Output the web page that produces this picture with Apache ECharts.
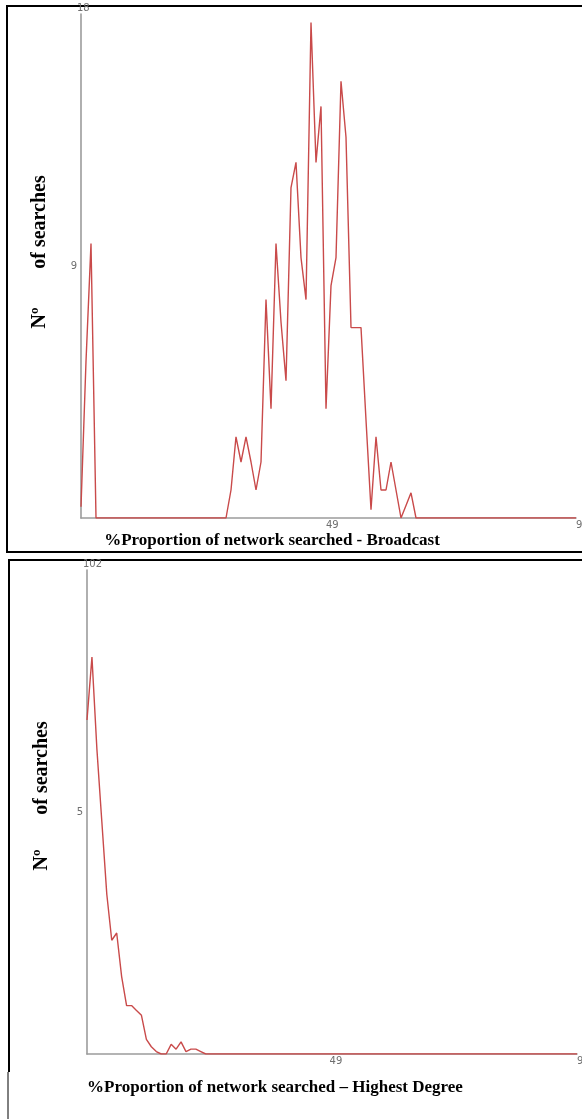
<!DOCTYPE html>
<html>
<head>
<meta charset="utf-8">
<script src="https://cdn.jsdelivr.net/npm/echarts@6/dist/echarts.min.js"></script>
<style>
html,body{margin:0;padding:0;background:#fff;}
#chart{width:582px;height:1119px;}
</style>
</head>
<body>
<div id="chart"></div>
<script>
// x positions: % proportion of network searched (0..99)
const xValues = [
 0,1,2,3,4,5,6,7,8,9,10,11,12,13,14,15,16,17,18,19,
 20,21,22,23,24,25,26,27,28,29,30,31,32,33,34,35,36,37,38,39,
 40,41,42,43,44,45,46,47,48,49,50,51,52,53,54,55,56,57,58,59,
 60,61,62,63,64,65,66,67,68,69,70,71,72,73,74,75,76,77,78,79,
 80,81,82,83,84,85,86,87,88,89,90,91,92,93,94,95,96,97,98,99
];
// Broadcast: number of searches
const broadcast = [
 0.4,5.6,9.8,0,0,0,0,0,0,0,0,0,0,0,0,0,0,0,0,0,
 0,0,0,0,0,0,0,0,0,0,1.0,2.9,2.0,2.9,2.0,1.0,2.0,7.8,3.9,9.8,
 7.0,4.9,11.8,12.7,9.3,7.8,17.7,12.7,14.7,3.9,8.3,9.3,15.6,13.6,6.8,6.8,6.8,3.5,0.3,2.9,
 1.0,1.0,2.0,1.0,0,0.45,0.9,0,0,0,0,0,0,0,0,0,0,0,0,0,
 0,0,0,0,0,0,0,0,0,0,0,0,0,0,0,0,0,0,0,0
];
// Highest Degree: number of searches
const highestDegree = [
 6.9,8.2,6.3,4.8,3.3,2.35,2.5,1.6,1.0,1.0,0.9,0.8,0.3,0.15,0.05,0,0,0.2,0.1,0.25,
 0.05,0.1,0.1,0.05,0,0,0,0,0,0,0,0,0,0,0,0,0,0,0,0,
 0,0,0,0,0,0,0,0,0,0,0,0,0,0,0,0,0,0,0,0,
 0,0,0,0,0,0,0,0,0,0,0,0,0,0,0,0,0,0,0,0,
 0,0,0,0,0,0,0,0,0,0,0,0,0,0,0,0,0,0,0,0
];
const xTickLabels = [49, 99];
const yMax1 = 18, yMid1 = 9, yTop1Label = '18';
const yMax2 = 10, yMid2 = 5, yTop2Label = '102';
const title1 = '%Proportion of network searched - Broadcast';
const title2 = '%Proportion of network searched \u2013 Highest Degree';
const yTitleA = 'N\u00BA', yTitleB = 'of searches';

const pairs = (ys) => xValues.map((x, i) => [x, ys[i]]);

const axisGrey = '#9c9c9c';
const labelGrey = '#6e6e6e';
const lineRed = '#c94a4a';

function xAx(g) {
  return {
    gridIndex: g, type: 'value', min: 0, max: 99,
    axisLine: {show: true, lineStyle: {color: axisGrey, width: 1.6}},
    axisTick: {show: false},
    splitLine: {show: false},
    axisLabel: {customValues: xTickLabels, align: 'left', color: labelGrey, fontSize: 10,
      fontFamily: 'DejaVu Sans', margin: 2, hideOverlap: false}
  };
}
function yAx(g, max, mid, topLabel) {
  return {
    gridIndex: g, type: 'value', min: 0, max: max,
    axisLine: {show: true, lineStyle: {color: axisGrey, width: 1.6}},
    axisTick: {show: false},
    splitLine: {show: false},
    axisLabel: {customValues: [mid], color: labelGrey, fontSize: 10, fontFamily: 'DejaVu Sans', margin: 4},
    name: topLabel, nameLocation: 'end', nameGap: 1,
    nameTextStyle: {color: labelGrey, fontSize: 10, fontFamily: 'DejaVu Sans', align: 'left', padding: [0,0,0,-4]}
  };
}

const serifTitle = 'bold 17px "Liberation Serif", "Times New Roman", serif';
const serifY = 'bold 20px "Liberation Serif", "Times New Roman", serif';

const option = {
  animation: false,
  backgroundColor: '#fff',
  grid: [
    {left: 81, top: 14, width: 495, height: 504, containLabel: false, outerBoundsMode: 'none'},
    {left: 87, top: 570, width: 490, height: 484, containLabel: false, outerBoundsMode: 'none'}
  ],
  xAxis: [xAx(0), xAx(1)],
  yAxis: [yAx(0, yMax1, yMid1, yTop1Label), yAx(1, yMax2, yMid2, yTop2Label)],
  series: [
    {type: 'line', xAxisIndex: 0, yAxisIndex: 0, data: pairs(broadcast), showSymbol: false,
      lineStyle: {color: lineRed, width: 1.4}, itemStyle: {color: lineRed}},
    {type: 'line', xAxisIndex: 1, yAxisIndex: 1, data: pairs(highestDegree), showSymbol: false,
      lineStyle: {color: lineRed, width: 1.4}, itemStyle: {color: lineRed}}
  ],
  graphic: [
    {type: 'rect', shape: {x: 7, y: 6, width: 620, height: 546}, style: {fill: 'none', stroke: '#000', lineWidth: 2}, silent: true},
    {type: 'polyline', shape: {points: [[9, 1072], [9, 560], [620, 560]]}, style: {fill: 'none', stroke: '#000', lineWidth: 2}, silent: true},
    {type: 'line', shape: {x1: 8, y1: 1072, x2: 8, y2: 1125}, style: {stroke: '#000', lineWidth: 1}, silent: true},
    {type: 'text', x: 40, y: 318, rotation: Math.PI / 2,
      style: {text: yTitleA, font: serifY, fill: '#000', textAlign: 'center', textVerticalAlign: 'middle'}},
    {type: 'text', x: 40, y: 222, rotation: Math.PI / 2,
      style: {text: yTitleB, font: serifY, fill: '#000', textAlign: 'center', textVerticalAlign: 'middle'}},
    {type: 'text', x: 42, y: 860, rotation: Math.PI / 2,
      style: {text: yTitleA, font: serifY, fill: '#000', textAlign: 'center', textVerticalAlign: 'middle'}},
    {type: 'text', x: 42, y: 768, rotation: Math.PI / 2,
      style: {text: yTitleB, font: serifY, fill: '#000', textAlign: 'center', textVerticalAlign: 'middle'}},
    {type: 'text', x: 272, y: 541,
      style: {text: title1, font: serifTitle, fill: '#000', textAlign: 'center', textVerticalAlign: 'middle'}},
    {type: 'text', x: 275, y: 1088,
      style: {text: title2, font: serifTitle, fill: '#000', textAlign: 'center', textVerticalAlign: 'middle'}}
  ]
};

const chart = echarts.init(document.getElementById('chart'), null, {renderer: 'canvas'});
chart.setOption(option);
</script>
</body>
</html>
